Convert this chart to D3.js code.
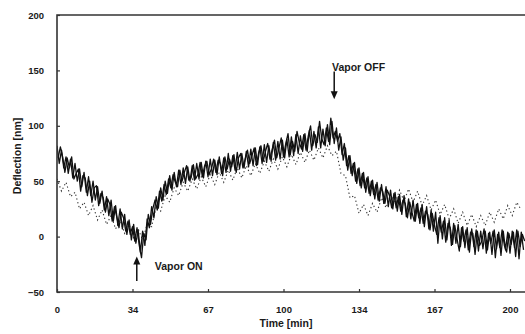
<!DOCTYPE html>
<html>
<head>
<meta charset="utf-8">
<script src="https://cdn.jsdelivr.net/npm/d3@7"></script>
<style>
  html, body { margin: 0; padding: 0; background: #fff; }
  svg { display: block; font-family: "Liberation Sans", Arial, sans-serif; }
</style>
</head>
<body>
<svg id="chart" width="525" height="334"></svg>
<script>
// Deflection [nm], run A, one sample per minute from t = 0
const runAStart = 0;
const runADeflection = [
  82, 66, 78, 62, 72, 57, 70, 53, 66, 50,
  61, 45, 58, 40, 54, 37, 50, 33, 45, 30,
  41, 24, 36, 19, 33, 14, 28, 10, 25, 7,
  20, 2, 15, -3, 11, -6, 6, -14, 5, -8,
  16, 8, 27, 17, 36, 26, 44, 33, 50, 39,
  55, 42, 58, 45, 60, 47, 62, 48, 63, 50,
  64, 51, 66, 52, 67, 53, 68, 54, 70, 55,
  69, 56, 72, 57, 71, 58, 75, 59, 73, 60,
  76, 61, 75, 62, 77, 63, 79, 64, 80, 65,
  81, 66, 83, 67, 82, 68, 85, 69, 86, 70,
  87, 71, 88, 72, 90, 73, 92, 75, 91, 77,
  93, 77, 96, 78, 95, 80, 99, 80, 97, 82,
  101, 83, 104, 84, 98, 78, 90, 69, 80, 60,
  73, 55, 67, 48, 62, 44, 58, 40, 54, 37,
  51, 34, 49, 32, 47, 30, 45, 27, 42, 25,
  40, 23, 38, 20, 37, 18, 34, 16, 33, 14,
  30, 12, 29, 9, 27, 7, 24, 5, 22, -6,
  19, -2, 17, -3, 15, -8, 12, -6, 11, -9,
  9, -10, 8, -14, 7, -9, 6, -13, 5, -11,
  5, -12, 4, -16, 6, -11, 4, -17, 5, -12,
  4, -15, 5, -10, 6, -20, 4, -12
];

// Deflection [nm], run B, one sample per minute from t = 0.5
const runBStart = 0.5;
const runBDeflection = [
  71, 81, 72, 58, 71, 62, 72, 52, 57, 61,
  41, 55, 53, 37, 50, 31, 44, 46, 28, 39,
  35, 22, 34, 29, 14, 27, 18, 8, 22, 17,
  5, 14, 2, 9, -4, 8, -8, -19, 3, -3,
  20, 11, 25, 33, 24, 41, 32, 47, 38, 52,
  44, 56, 49, 45, 60, 50, 58, 64, 51, 53,
  65, 52, 56, 67, 54, 64, 68, 56, 61, 70,
  58, 69, 66, 55, 72, 61, 70, 63, 74, 58,
  71, 75, 62, 70, 78, 66, 73, 80, 64, 76,
  82, 68, 77, 84, 70, 79, 87, 71, 80, 89,
  72, 84, 93, 74, 86, 77, 95, 85, 79, 92,
  78, 91, 100, 82, 92, 85, 104, 88, 83, 98,
  86, 107, 89, 95, 86, 93, 74, 84, 64, 73,
  57, 66, 50, 61, 46, 57, 44, 53, 39, 50,
  38, 47, 33, 44, 41, 30, 42, 37, 26, 39,
  26, 36, 23, 33, 30, 17, 31, 22, 14, 29,
  17, 26, 12, 23, 20, 6, 21, 10, 2, 17,
  4, 14, -5, 12, 8, -7, 10, -2, -13, 8,
  -4, 6, -12, 4, 3, -16, 5, -8, -4, 7,
  -15, 3, -6, 5, -19, 2, -10, 6, -8, -14,
  3, -7, 4, -18, 5, -9, 2, -4
];
const runStep = 1;

// Deflection [nm], dotted run C, one sample every 2 minutes from t = 0
const runCStep = 2;
const runCDeflection = [
  52, 41, 49, 36, 40, 25, 31, 19, 28, 15,
  24, 11, 19, 7, 15, 3, 11, -1, 7, -3,
  11, 9, 27, 23, 37, 31, 44, 37, 49, 41,
  52, 43, 54, 45, 56, 47, 58, 49, 60, 51,
  62, 53, 64, 55, 66, 57, 68, 59, 70, 61,
  72, 63, 74, 65, 76, 67, 78, 69, 80, 71,
  82, 73, 77, 57, 55, 35, 37, 21, 29, 19,
  30, 22, 35, 26, 38, 30, 42, 32, 43, 31,
  41, 28, 37, 24, 33, 20, 29, 16, 25, 12,
  22, 10, 20, 9, 19, 10, 22, 13, 25, 16,
  28, 19, 31, 24
];

const xTickValues = [0, 33.5, 67, 100.5, 134, 167.5, 201];
const xTickLabels = ["0", "34", "67", "100", "134", "167", "200"];
const yTickValues = [-50, 0, 50, 100, 150, 200];

// arrow annotations: label, time, arrow tail, arrow tip, label time, label deflection
const notes = [
  ["Vapor ON", 35.4, -40, -18, 43.4, -27],
  ["Vapor OFF", 123, 149, 124, 122, 153]
];

const W = 525, H = 334;
const x = d3.scaleLinear().domain([0, 201]).range([57, 510]);
const y = d3.scaleLinear().domain([-50, 200]).range([292, 15]);

const svg = d3.select("#chart");

svg.append("defs").append("clipPath").attr("id", "plot")
  .append("rect").attr("x", 57).attr("y", 12).attr("width", W - 57).attr("height", 283);

const plot = svg.append("g").attr("clip-path", "url(#plot)");

plot.append("path")
  .datum(runCDeflection)
  .attr("fill", "none")
  .attr("stroke", "#333")
  .attr("stroke-width", 1.1)
  .attr("stroke-dasharray", "1.3,2.6")
  .attr("d", d3.line().x((d, i) => x(i * runCStep)).y((d) => y(d)));

[[runADeflection, runAStart], [runBDeflection, runBStart]].forEach(([vals, t0]) => {
  plot.append("path")
    .datum(vals)
    .attr("fill", "none")
    .attr("stroke", "#111")
    .attr("stroke-width", 1.3)
    .attr("stroke-linejoin", "round")
    .attr("d", d3.line().x((d, i) => x(t0 + i * runStep)).y((d) => y(d)));
});

// frame
svg.append("path")
  .attr("fill", "none")
  .attr("stroke", "#333")
  .attr("stroke-width", 1.6)
  .attr("d", `M${W},${y(200)}H${x(0)}V${y(-50)}H${W}`);

const xAxis = svg.append("g")
  .attr("transform", `translate(0,${y(-50)})`)
  .call(d3.axisBottom(x).tickValues(xTickValues).tickFormat((d, i) => xTickLabels[i])
    .tickSizeInner(-3).tickSizeOuter(0).tickPadding(14));

const yAxis = svg.append("g")
  .attr("transform", `translate(${x(0)},0)`)
  .call(d3.axisLeft(y).tickValues(yTickValues).tickSizeInner(-3).tickSizeOuter(0).tickPadding(13));

[xAxis, yAxis].forEach((g) => {
  g.select(".domain").remove();
  g.selectAll(".tick line").attr("stroke", "#333").attr("stroke-width", 1.2);
  g.selectAll(".tick text")
    .attr("fill", "#1a1a1a")
    .style("font-family", '"Liberation Sans", Arial, sans-serif')
    .style("font-size", "9.5px")
    .style("font-weight", "bold");
});

svg.append("text")
  .attr("x", 286)
  .attr("y", 327)
  .attr("text-anchor", "middle")
  .style("font-size", "10.5px")
  .style("font-weight", "bold")
  .attr("fill", "#1a1a1a")
  .text("Time [min]");

svg.append("text")
  .attr("transform", "translate(21,156) rotate(-90)")
  .attr("text-anchor", "middle")
  .style("font-size", "10.5px")
  .style("font-weight", "bold")
  .attr("fill", "#1a1a1a")
  .text("Deflection [nm]");

// annotations
notes.forEach(([label, t, tail, tip, lt, ly]) => {
  const ax = x(t), y0 = y(tail), y1 = y(tip);
  const dir = y1 < y0 ? -1 : 1;
  svg.append("line")
    .attr("x1", ax).attr("x2", ax)
    .attr("y1", y0).attr("y2", y1 - dir * 7)
    .attr("stroke", "#111").attr("stroke-width", 1.5);
  svg.append("path")
    .attr("fill", "#111")
    .attr("d", `M${ax},${y1}L${ax - 3.5},${y1 - dir * 8}L${ax + 3.5},${y1 - dir * 8}Z`);
  svg.append("text")
    .attr("x", x(lt))
    .attr("y", y(ly))
    .attr("dy", "0.35em")
    .style("font-size", "10.5px")
    .style("font-weight", "bold")
    .attr("fill", "#1a1a1a")
    .text(label);
});
</script>
</body>
</html>
